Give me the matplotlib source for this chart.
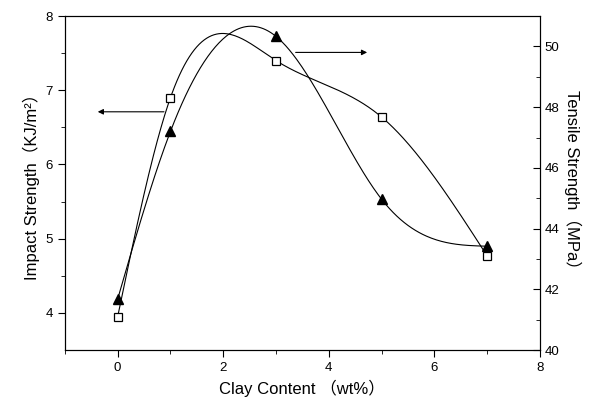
import numpy as np
import matplotlib.pyplot as plt

# Clay content (wt%)
clay = [0, 1, 3, 5, 7]
# Impact strength (KJ/m2), open squares, left axis
impact = [3.95, 6.9, 7.4, 6.64, 4.77]
# Tensile strength (MPa), filled triangles, right axis
tensile = [41.68, 47.2, 50.33, 44.97, 43.42]


def natural_spline(x, y, xs):
    # plain natural cubic spline, no scipy needed
    x = np.asarray(x, float)
    y = np.asarray(y, float)
    n = len(x)
    h = np.diff(x)
    A = np.zeros((n, n))
    b = np.zeros(n)
    A[0, 0] = A[-1, -1] = 1
    for i in range(1, n - 1):
        A[i, i - 1] = h[i - 1]
        A[i, i] = 2 * (h[i - 1] + h[i])
        A[i, i + 1] = h[i]
        b[i] = 6 * ((y[i + 1] - y[i]) / h[i] - (y[i] - y[i - 1]) / h[i - 1])
    M = np.linalg.solve(A, b)
    out = np.empty_like(xs)
    for k, t in enumerate(xs):
        i = min(max(np.searchsorted(x, t, side="right") - 1, 0), n - 2)
        out[k] = (M[i] * (x[i + 1] - t) ** 3 + M[i + 1] * (t - x[i]) ** 3) / (6 * h[i]) \
            + (y[i] / h[i] - M[i] * h[i] / 6) * (x[i + 1] - t) \
            + (y[i + 1] / h[i] - M[i + 1] * h[i] / 6) * (t - x[i])
    return out


plt.rcParams["font.family"] = ["Liberation Sans", "Noto Sans CJK SC", "DejaVu Sans"]

fig = plt.figure(figsize=(5.9, 4.01), dpi=100)
ax = fig.add_axes([0.110, 0.127, 0.805, 0.833])
ax2 = ax.twinx()

xs = np.linspace(0, 7, 300)
ax.plot(xs, natural_spline(clay, impact, xs), color="black", lw=0.8)
ax.plot(clay, impact, ls="none", marker="s", ms=6, mfc="white", mec="black", mew=0.9)

ax2.plot(xs, natural_spline(clay, tensile, xs), color="black", lw=0.8)
ax2.plot(clay, tensile, ls="none", marker="^", ms=7, color="black")

ax.set_xlim(-1, 8)
ax.set_ylim(3.5, 8)
ax2.set_ylim(40, 51)

ax.set_xticks([0, 2, 4, 6, 8])
ax.set_xticks([-1, 1, 3, 5, 7], minor=True)
ax.set_yticks([4, 5, 6, 7, 8])
ax.set_yticks([4.5, 5.5, 6.5, 7.5], minor=True)
ax2.set_yticks([40, 42, 44, 46, 48, 50])
ax2.set_yticks([41, 43, 45, 47, 49], minor=True)

ax.tick_params(axis="both", which="both", direction="out", labelsize=9.5, top=False)
ax.tick_params(which="major", length=5)
ax.tick_params(which="minor", length=3)
ax2.tick_params(axis="y", which="both", direction="in", labelsize=9.5)
ax2.tick_params(which="major", length=5)
ax2.tick_params(which="minor", length=3)

ax.set_xlabel("Clay Content （wt%）", fontsize=12)
ax.set_ylabel("Impact Strength（KJ/m²）", fontsize=12)
ax2.set_ylabel("Tensile Strength（MPa）", fontsize=12, rotation=270, labelpad=16)

# arrows pointing to each curve's axis
ax.annotate("", xy=(-0.43, 6.71), xytext=(0.93, 6.71),
            arrowprops=dict(arrowstyle="-|>", color="black", lw=0.8, mutation_scale=8))
ax.annotate("", xy=(4.78, 7.51), xytext=(3.32, 7.51),
            arrowprops=dict(arrowstyle="-|>", color="black", lw=0.8, mutation_scale=8))

fig.savefig("out.png", dpi=100)
